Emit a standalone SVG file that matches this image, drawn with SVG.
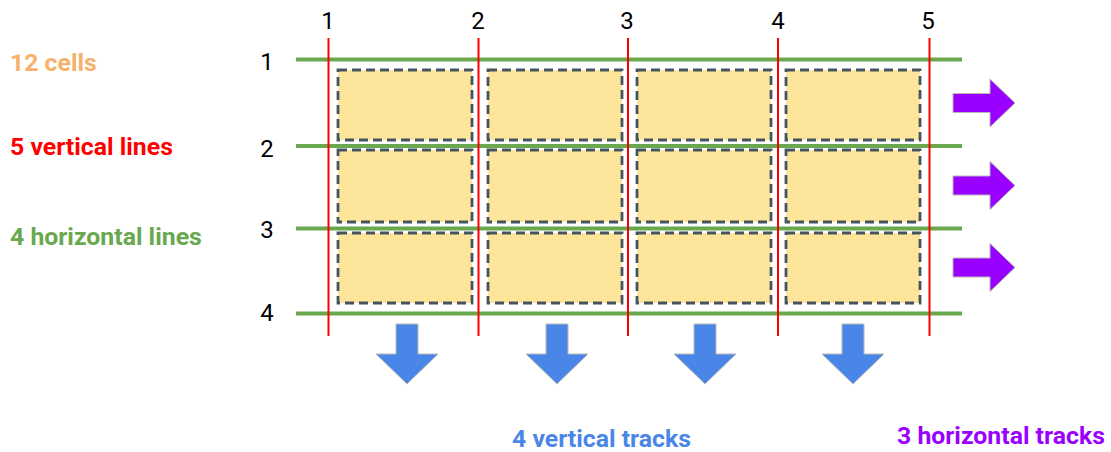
<svg xmlns="http://www.w3.org/2000/svg" width="1111" height="452" viewBox="0 0 1111 452">
<style>
.cell{fill:#fee59c;stroke:#45545f;stroke-width:2.8;stroke-dasharray:9,5}
.vl{stroke:#ff0000;stroke-width:2}
.hl{stroke:#6aa84f;stroke-width:4}
.num{font-family:Roboto,"Liberation Sans",sans-serif;font-size:24px;fill:#000;text-anchor:middle}
.lbl{font-family:Roboto,"Liberation Sans",sans-serif;font-size:24.8px;font-weight:bold}
.down{fill:#4a86e8;stroke:#b7b7b7;stroke-width:1}
.right{fill:#9900ff;stroke:#b7b7b7;stroke-width:1}
</style>
<defs>
<path id="darr" d="M-11,0 H11 V30 H31 L0,60 L-31,30 H-11 Z"/>
<path id="rarr" d="M0,-9.5 H37 V-24 L62,0 L37,24 V9.5 H0 Z"/>
</defs>
<rect width="1111" height="452" fill="#fff"/>
<g id="cells">
<rect class="cell" x="338" y="70" width="134" height="70"/>
<rect class="cell" x="488" y="70" width="134" height="70"/>
<rect class="cell" x="637" y="70" width="134" height="70"/>
<rect class="cell" x="786" y="70" width="134" height="70"/>
<rect class="cell" x="338" y="150" width="134" height="72"/>
<rect class="cell" x="488" y="150" width="134" height="72"/>
<rect class="cell" x="637" y="150" width="134" height="72"/>
<rect class="cell" x="786" y="150" width="134" height="72"/>
<rect class="cell" x="338" y="233" width="134" height="70"/>
<rect class="cell" x="488" y="233" width="134" height="70"/>
<rect class="cell" x="637" y="233" width="134" height="70"/>
<rect class="cell" x="786" y="233" width="134" height="70"/>
</g>
<g id="connectors">
<line class="hl" x1="296" y1="59.5" x2="962" y2="59.5"/>
<line class="hl" x1="296" y1="146" x2="962" y2="146"/>
<line class="hl" x1="296" y1="228.5" x2="962" y2="228.5"/>
<line class="hl" x1="296" y1="313.5" x2="962" y2="313.5"/>
<line class="vl" x1="328.5" y1="38" x2="328.5" y2="336"/>
<line class="vl" x1="478.5" y1="38" x2="478.5" y2="336"/>
<line class="vl" x1="628" y1="38" x2="628" y2="336"/>
<line class="vl" x1="778" y1="38" x2="778" y2="336"/>
<line class="vl" x1="929.5" y1="38" x2="929.5" y2="336"/>
</g>
<g id="col-numbers">
<text class="num" x="328" y="29">1</text>
<text class="num" x="478" y="29">2</text>
<text class="num" x="627" y="29">3</text>
<text class="num" x="778" y="29">4</text>
<text class="num" x="928" y="29">5</text>
</g>
<g id="row-numbers">
<text class="num" x="267" y="70">1</text>
<text class="num" x="267" y="157">2</text>
<text class="num" x="267" y="238">3</text>
<text class="num" x="267" y="321">4</text>
</g>
<g id="down-arrows">
<use href="#darr" class="down" x="407" y="324"/>
<use href="#darr" class="down" x="557" y="324"/>
<use href="#darr" class="down" x="705" y="324"/>
<use href="#darr" class="down" x="853" y="324"/>
</g>
<g id="right-arrows">
<use href="#rarr" class="right" x="953" y="103"/>
<use href="#rarr" class="right" x="953" y="185.5"/>
<use href="#rarr" class="right" x="953" y="267.5"/>
</g>
<g id="labels">
<text class="lbl" x="10" y="71" fill="#f6b26b">12 cells</text>
<text class="lbl" x="10" y="155" fill="#ff0000">5 vertical lines</text>
<text class="lbl" x="10" y="245" fill="#6aa84f">4 horizontal lines</text>
<text class="lbl" x="512" y="447" fill="#4a86e8">4 vertical tracks</text>
<text class="lbl" x="897" y="444" fill="#9900ff">3 horizontal tracks</text>
</g>
</svg>
